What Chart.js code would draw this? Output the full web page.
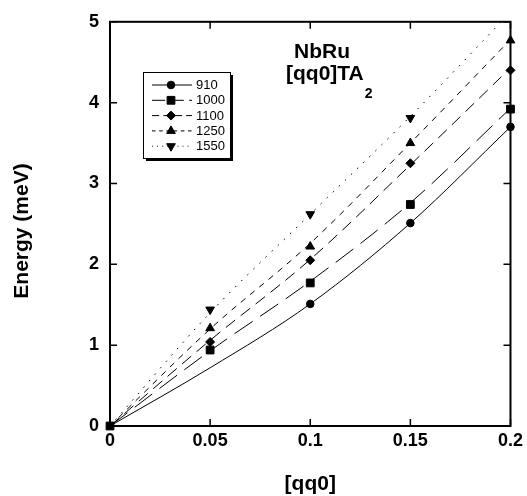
<!DOCTYPE html>
<html lang="en">
<head>
<meta charset="UTF-8">
<title>NbRu [qq0]TA2</title>
<script src="https://cdn.jsdelivr.net/npm/chart.js"></script>
<style>
  body { margin: 0; background: #fff; }
  #wrap { width: 527px; height: 496px; }
</style>
</head>
<body>
<div id="wrap"><canvas id="myChart" width="527" height="496"></canvas></div>
<script>
// [qq0] positions
const qq = [0, 0.05, 0.1, 0.15, 0.2];
const temps = ['910', '1000', '1100', '1250', '1550'];

// measured energies (meV), null = no marker
const pts910  = [null, null, 1.51, 2.51, 3.70];
const pts1000 = [0, 0.94, 1.77, 2.74, 3.92];
const pts1100 = [null, 1.04, 2.05, 3.25, 4.40];
const pts1250 = [null, 1.21, 2.22, 3.50, 4.77];
const pts1550 = [null, 1.44, 2.62, 3.81, null];

// fitted curves
const fit910  = [0, 0.72, 1.51, 2.51, 3.70];
const fit1000 = [0, 0.93, 1.79, 2.76, 3.93];
const fit1100 = [0, 1.06, 2.06, 3.23, 4.43];
const fit1250 = [0, 1.20, 2.26, 3.50, 4.78];
const fit1550 = [0, 1.40, 2.62, 3.83, 5.12];

const xTicks = [0, 0.05, 0.1, 0.15, 0.2];
const yTicks = [0, 1, 2, 3, 4, 5];

const points = [pts910, pts1000, pts1100, pts1250, pts1550];
const fits = [fit910, fit1000, fit1100, fit1250, fit1550];

const FONT = '"Liberation Sans", Arial, Helvetica, sans-serif';
const styles = [
    { pointStyle: 'circle',   radius: 3.8, rotation: 0,   dash: [] },
    { pointStyle: 'rect',     radius: 5.5, rotation: 0,   dash: [22, 9] },
    { pointStyle: 'rectRot',  radius: 4.5, rotation: 0,   dash: [12, 7] },
    { pointStyle: 'triangle', radius: 5,   rotation: 0,   dash: [6, 6] },
    { pointStyle: 'triangle', radius: 5,   rotation: 180, dash: [1.5, 7] }
];

const datasets = [];
temps.forEach((t, i) => {
    datasets.push({
        label: t + ' fit',
        data: qq.map((x, j) => ({ x: x, y: fits[i][j] })),
        showLine: true,
        borderColor: '#000',
        borderWidth: 1,
        borderDash: styles[i].dash,
        pointRadius: 0,
        cubicInterpolationMode: 'monotone'
    });
    datasets.push({
        label: t,
        data: qq.map((x, j) => ({ x: x, y: points[i][j] })).filter(p => p.y !== null),
        showLine: false,
        pointStyle: styles[i].pointStyle,
        pointRadius: styles[i].radius,
        pointRotation: styles[i].rotation,
        backgroundColor: '#000',
        borderColor: '#000',
        borderWidth: 1,
        clip: false
    });
});

function marker(ctx, st, x, y) {
    const opts = { pointStyle: st.pointStyle, radius: st.radius, rotation: st.rotation, borderWidth: 1 };
    ctx.fillStyle = '#000';
    ctx.strokeStyle = '#000';
    ctx.setLineDash([]);
    Chart.helpers.drawPoint(ctx, opts, x, y);
}

// frame, inward ticks, titles and the boxed legend
const decor = {
    id: 'decor',
    beforeDatasetsDraw(chart) {
        const ctx = chart.ctx;
        const a = chart.chartArea;
        const xs = chart.scales.x, ys = chart.scales.y;
        ctx.save();
        ctx.strokeStyle = '#000';
        ctx.lineWidth = 1.5;
        xTicks.forEach(v => {
            const px = xs.getPixelForValue(v);
            ctx.beginPath();
            ctx.moveTo(px, a.bottom); ctx.lineTo(px, a.bottom - 7);
            ctx.moveTo(px, a.top); ctx.lineTo(px, a.top + 7);
            ctx.stroke();
        });
        yTicks.forEach(v => {
            const py = ys.getPixelForValue(v);
            ctx.beginPath();
            ctx.moveTo(a.left, py); ctx.lineTo(a.left + 7, py);
            ctx.moveTo(a.right, py); ctx.lineTo(a.right - 7, py);
            ctx.stroke();
        });
        ctx.lineWidth = 2;
        ctx.strokeRect(a.left, a.top, a.right - a.left, a.bottom - a.top);
        ctx.restore();
    },
    afterDraw(chart) {
        const ctx = chart.ctx;
        const a = chart.chartArea;
        ctx.save();
        ctx.fillStyle = '#000';

        // in-plot title
        ctx.font = 'bold 21px ' + FONT;
        ctx.textAlign = 'center';
        ctx.textBaseline = 'alphabetic';
        ctx.fillText('NbRu', 322, 58);
        ctx.textAlign = 'left';
        ctx.fillText('[qq0]TA', 286, 80);
        const w = ctx.measureText('[qq0]TA').width;
        ctx.font = 'bold 14px ' + FONT;
        ctx.fillText('2', 286 + w + 1, 98);

        // axis titles
        ctx.font = 'bold 21px ' + FONT;
        ctx.textAlign = 'center';
        ctx.fillText('[qq0]', (a.left + a.right) / 2, 490);
        ctx.translate(22, 231);
        ctx.rotate(-Math.PI / 2);
        ctx.textBaseline = 'middle';
        ctx.fillText('Energy (meV)', 0, 0);
        ctx.restore();

        // legend box with shadow
        ctx.save();
        const bx = 143, by = 72, bw = 87, bh = 86;
        ctx.fillStyle = '#000';
        ctx.fillRect(bx + 3, by + 3, bw, bh);
        ctx.fillStyle = '#fff';
        ctx.fillRect(bx, by, bw, bh);
        ctx.strokeStyle = '#000';
        ctx.lineWidth = 1;
        ctx.strokeRect(bx + 0.5, by + 0.5, bw, bh);
        ctx.font = '13px ' + FONT;
        ctx.textAlign = 'left';
        ctx.textBaseline = 'middle';
        temps.forEach((t, i) => {
            const y = 85 + i * 15.3;
            ctx.beginPath();
            ctx.setLineDash(styles[i].dash.map(d => d * 0.6));
            ctx.lineWidth = 1;
            ctx.moveTo(152, y); ctx.lineTo(192, y);
            ctx.stroke();
            marker(ctx, styles[i], 171, y);
            ctx.fillStyle = '#000';
            ctx.fillText(t, 196, y + 0.5);
        });
        ctx.restore();
    }
};

const ctx = document.getElementById('myChart').getContext('2d');
const chart = new Chart(ctx, {
    type: 'scatter',
    data: { datasets: datasets },
    options: {
        responsive: false,
        animation: false,
        layout: { padding: { top: 21, right: 14, left: 0, bottom: 0 } },
        plugins: { legend: { display: false }, tooltip: { enabled: false } },
        scales: {
            x: {
                type: 'linear',
                min: 0, max: 0.2,
                afterFit(s) { s.height = 70; },
                afterBuildTicks(s) { s.ticks = xTicks.map(v => ({ value: v })); },
                grid: { display: false, drawTicks: false },
                border: { display: false },
                ticks: {
                    padding: 4,
                    color: '#000',
                    font: { family: FONT, size: 18, weight: 'bold' },
                    maxRotation: 0,
                    callback: v => String(+v.toFixed(2))
                }
            },
            y: {
                type: 'linear',
                min: 0, max: 5,
                afterFit(s) { s.width = 110; },
                afterBuildTicks(s) { s.ticks = yTicks.map(v => ({ value: v })); },
                grid: { display: false, drawTicks: false },
                border: { display: false },
                ticks: {
                    padding: 11,
                    color: '#000',
                    font: { family: FONT, size: 18, weight: 'bold' },
                    callback: v => String(v)
                }
            }
        }
    },
    plugins: [decor]
});
</script>
</body>
</html>
